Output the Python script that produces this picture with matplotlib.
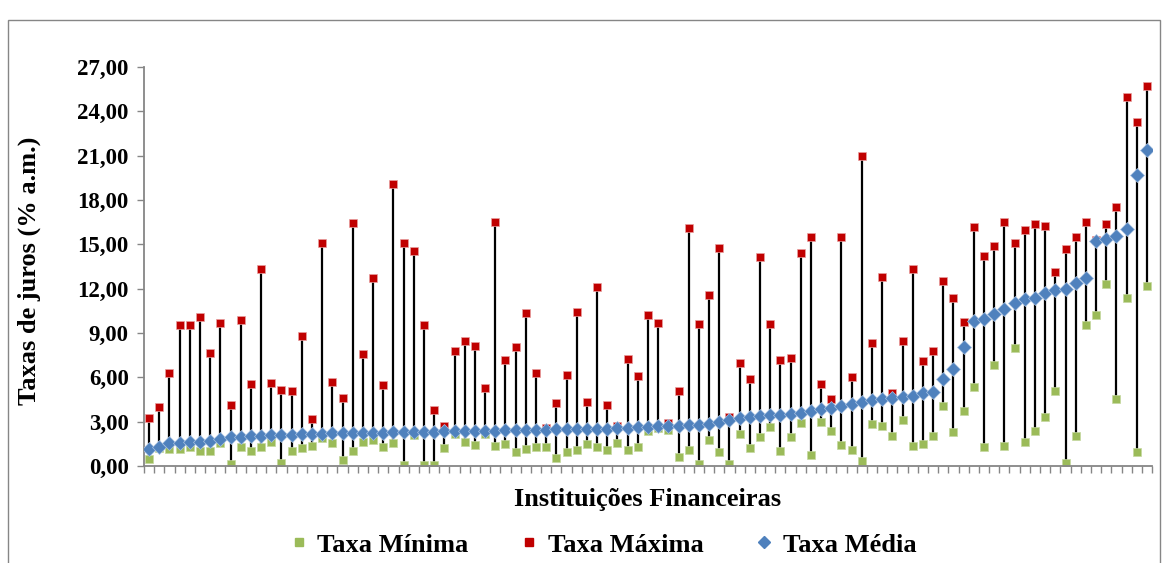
import numpy as np
import matplotlib
matplotlib.use('Agg')
import matplotlib.pyplot as plt
from matplotlib.lines import Line2D
from matplotlib.patches import Rectangle

# taxas por instituicao (ordenadas pela taxa media)
taxa_minima = [0.47, 1.25, 1.13, 1.17, 1.31, 1.04, 0.99, 1.53, 0.14, 1.26,
               1.04, 1.31, 1.65, 0.22, 1.04, 1.22, 1.35, 1.90, 1.58, 0.41,
               1.04, 1.65, 1.74, 1.26, 1.58, 0.05, 2.10, 0.05, 0.09, 1.22,
               2.15, 1.65, 1.42, 2.16, 1.37, 1.51, 0.93, 1.17, 1.28, 1.31,
               0.56, 0.97, 1.06, 1.51, 1.26, 1.08, 1.53, 1.10, 1.28, 2.40,
               2.60, 2.43, 0.59, 1.06, 0.16, 1.74, 0.93, 0.16, 2.19, 1.24,
               1.98, 2.66, 1.01, 1.98, 2.89, 0.77, 3.00, 2.37, 1.44, 1.06,
               0.36, 2.86, 2.70, 2.00, 3.13, 1.37, 1.47, 2.00, 4.08, 2.28,
               3.74, 5.32, 1.26, 6.85, 1.37, 8.00, 1.65, 2.37, 3.34, 5.07,
               0.18, 2.03, 9.51, 10.20, 12.33, 4.50, 11.38, 0.97, 12.20]

taxa_maxima = [3.27, 4.01, 6.31, 9.56, 9.56, 10.05, 7.66, 9.69, 4.10, 9.85,
               5.54, 13.32, 5.59, 5.14, 5.05, 8.79, 3.16, 15.08, 5.68, 4.62,
               16.43, 7.60, 12.71, 5.50, 19.07, 15.08, 14.54, 9.51, 3.76, 2.73,
               7.80, 8.47, 8.14, 5.30, 16.50, 7.17, 8.07, 10.34, 6.29, 2.55,
               4.24, 6.15, 10.43, 4.33, 12.12, 4.10, 2.70, 7.21, 6.10, 10.21,
               9.69, 2.93, 5.09, 16.11, 9.58, 11.56, 14.74, 3.33, 6.99, 5.90,
               14.13, 9.62, 7.19, 7.32, 14.42, 15.48, 5.57, 4.55, 15.48, 6.04,
               20.96, 8.32, 12.82, 4.91, 8.47, 13.30, 7.08, 7.75, 12.55, 11.38,
               9.74, 16.20, 14.20, 14.90, 16.50, 15.10, 16.00, 16.40, 16.25, 13.10,
               14.70, 15.50, 16.50, 15.30, 16.40, 17.50, 25.00, 23.30, 25.70]

taxa_media = [1.13, 1.31, 1.58, 1.58, 1.60, 1.65, 1.69, 1.80, 1.94, 1.98,
              2.01, 2.03, 2.07, 2.10, 2.12, 2.14, 2.16, 2.18, 2.20, 2.21,
              2.22, 2.24, 2.25, 2.26, 2.27, 2.28, 2.30, 2.31, 2.32, 2.34,
              2.36, 2.37, 2.38, 2.39, 2.40, 2.41, 2.42, 2.43, 2.44, 2.46,
              2.47, 2.48, 2.49, 2.51, 2.52, 2.53, 2.55, 2.58, 2.62, 2.65,
              2.68, 2.72, 2.74, 2.76, 2.79, 2.85, 2.97, 3.10, 3.22, 3.30,
              3.36, 3.42, 3.47, 3.52, 3.56, 3.70, 3.85, 3.95, 4.08, 4.20,
              4.32, 4.45, 4.52, 4.62, 4.68, 4.72, 4.92, 4.98, 5.90, 6.55,
              8.03, 9.83, 9.98, 10.28, 10.59, 11.00, 11.30, 11.38, 11.68, 11.90,
              12.00, 12.40, 12.70, 15.20, 15.35, 15.55, 16.07, 19.70, 21.40]

y_ticks = [0, 3, 6, 9, 12, 15, 18, 21, 24, 27]

plt.rcParams['font.family'] = ['Liberation Serif', 'DejaVu Serif']
plt.rcParams['font.weight'] = 'bold'

verde = '#9BBB59'
vermelho = '#C00000'
azul = '#4F81BD'
cinza = '#868686'

n = len(taxa_media)
x = np.arange(1, n + 1)

fig = plt.figure(figsize=(11.69, 5.63), dpi=100)
ax = fig.add_axes([0.1232, 0.1723, 0.8623, 0.7087])

ax.vlines(x, taxa_minima, taxa_maxima, colors='black', linewidth=1.6, zorder=1)
ax.plot(x, taxa_minima, 's', color=verde, markersize=5.5, markeredgecolor='#C5D8A0',
        markeredgewidth=0.5, zorder=2)
ax.plot(x, taxa_maxima, 's', color=vermelho, markersize=5.5, markeredgecolor='#E8A0A0',
        markeredgewidth=0.5, zorder=3)
ax.plot(x, taxa_media, 'D', color=azul, markersize=7.5, markeredgecolor='#A9C2E2',
        markeredgewidth=0.5, zorder=4)

ax.set_xlim(0.5, n + 0.5)
ax.set_ylim(0, 27)
ax.set_yticks(y_ticks)
ax.set_yticklabels([('%.2f' % v).replace('.', ',') for v in y_ticks])
ax.set_xticks(np.arange(0.5, n + 1, 1))
ax.set_xticklabels([])

for s in ['top', 'right']:
    ax.spines[s].set_visible(False)
for s in ['left', 'bottom']:
    ax.spines[s].set_color(cinza)
    ax.spines[s].set_linewidth(1.3)
ax.tick_params(axis='both', direction='out', length=5, width=1, color=cinza)
ax.tick_params(axis='y', labelsize=16.5, pad=6)

ax.set_ylabel('Taxas de juros (% a.m.)', fontsize=19, fontweight='bold')
ax.yaxis.set_label_coords(-0.102, 0.49)
ax.set_xlabel('Instituições Financeiras', fontsize=19, fontweight='bold', labelpad=7)

handles = [Line2D([], [], marker='s', color=verde, linestyle='none', markersize=6),
           Line2D([], [], marker='s', color=vermelho, linestyle='none', markersize=6),
           Line2D([], [], marker='D', color=azul, linestyle='none', markersize=6)]
fig.legend(handles, ['Taxa Mínima', 'Taxa Máxima', 'Taxa Média'], loc='center',
           bbox_to_anchor=(0.514, 0.032), ncol=3, frameon=False, fontsize=19,
           handletextpad=0.2, columnspacing=1.8, handlelength=1.0)

fig.patches.append(Rectangle((8 / 1169, -0.02), 1152 / 1169, 0.9645 + 0.02,
                             transform=fig.transFigure, fill=False,
                             edgecolor=cinza, linewidth=1))

fig.savefig('out.png', dpi=100)
